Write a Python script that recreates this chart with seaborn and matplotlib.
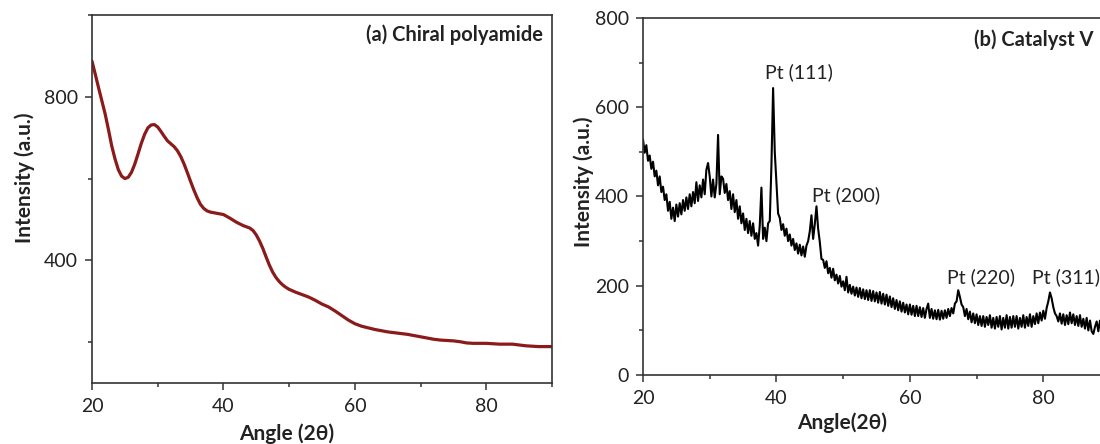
import numpy as np
import pandas as pd
import seaborn as sns
import matplotlib
matplotlib.use("Agg")
import matplotlib.pyplot as plt
from matplotlib.ticker import MultipleLocator

# ---------------- data ----------------
angle_a = [20, 20.5, 21, 21.5, 22, 22.5, 23, 23.5, 24, 24.5, 25, 25.5, 26, 26.5,
           27, 27.5, 28, 28.5, 29, 29.5, 30, 30.5, 31, 31.5, 32, 32.5, 33, 33.5,
           34, 34.5, 35, 35.5, 36, 36.5, 37, 37.5, 38, 39, 40, 41, 42, 43, 44,
           44.5, 45, 45.5, 46, 46.5, 47, 47.5, 48, 48.5, 49, 49.5, 50, 51, 52,
           53, 54, 55, 56, 57, 58, 59, 60, 61, 62, 63, 64, 65, 66, 67, 68, 69,
           70, 71, 72, 73, 74, 75, 76, 77, 78, 79, 80, 81, 82, 83, 84, 85, 86,
           87, 88, 89, 90]
intensity_a = [887, 855, 822, 790, 758, 720, 680, 648, 622, 606, 600, 603, 615, 635,
               660, 686, 708, 724, 731, 732, 726, 715, 703, 692, 685, 678, 668, 654,
               636, 615, 593, 572, 553, 537, 527, 521, 518, 515, 512, 503, 493, 485, 479,
               473, 462, 447, 429, 408, 388, 371, 358, 348, 340, 334, 329, 322, 316,
               310, 302, 293, 286, 276, 265, 254, 245, 239, 235, 231, 228, 225, 223, 221, 219, 216,
               213, 210, 207, 205, 204, 203, 201, 198, 197, 197, 197, 196, 195, 195, 195, 193, 191,
               190, 189, 189, 189]

angle_b = np.arange(20, 90.001, 0.25)
intensity_b = [
    528, 498, 515, 480,   # 20
    492, 462, 478, 445,   # 21
    458, 425, 445, 410,   # 22
    422, 392, 405, 368,   # 23
    388, 350, 375, 345,   # 24
    382, 355, 385, 360,   # 25
    392, 368, 398, 372,   # 26
    405, 378, 410, 385,   # 27
    432, 390, 425, 398,   # 28
    438, 405, 460, 475,   # 29
    445, 400, 438, 398,   # 30
    428, 538, 405, 445,   # 31
    440, 408, 428, 392,   # 32
    412, 372, 405, 365,   # 33
    392, 350, 378, 340,   # 34
    362, 325, 350, 318,   # 35
    345, 312, 340, 305,   # 36
    318, 290, 335, 420,   # 37
    305, 330, 300, 340,   # 38
    345, 470, 643, 500,   # 39
    430, 362, 352, 325,   # 40
    338, 312, 328, 300,   # 41
    315, 290, 305, 280,   # 42
    295, 272, 292, 268,   # 43
    288, 265, 290, 300,   # 44
    322, 358, 305, 338,   # 45
    378, 328, 298, 260,   # 46
    258, 240, 255, 228,   # 47
    240, 218, 238, 212,   # 48
    225, 205, 222, 198,   # 49
    210, 190, 220, 185,   # 50
    202, 182, 198, 178,   # 51
    196, 175, 195, 172,   # 52
    192, 170, 190, 168,   # 53
    190, 166, 188, 165,   # 54
    185, 162, 186, 160,   # 55
    182, 158, 180, 155,   # 56
    176, 152, 172, 148,   # 57
    168, 145, 165, 142,   # 58
    162, 140, 158, 136,   # 59
    158, 135, 155, 132,   # 60
    155, 132, 152, 130,   # 61
    150, 128, 148, 160,   # 62
    128, 148, 126, 145,   # 63
    125, 146, 124, 144,   # 64
    126, 145, 128, 148,   # 65
    132, 150, 138, 160,   # 66
    165, 190, 175, 158,   # 67
    152, 132, 148, 125,   # 68
    142, 118, 138, 116,   # 69
    136, 112, 132, 110,   # 70
    132, 108, 130, 112,   # 71
    134, 106, 128, 104,   # 72
    130, 108, 132, 102,   # 73
    128, 106, 134, 104,   # 74
    130, 106, 132, 108,   # 75
    132, 104, 128, 108,   # 76
    134, 106, 130, 110,   # 77
    136, 108, 132, 114,   # 78
    138, 116, 140, 122,   # 79
    144, 126, 150, 165,   # 80
    185, 172, 152, 138,   # 81
    132, 120, 138, 115,   # 82
    136, 112, 134, 114,   # 83
    140, 116, 136, 112,   # 84
    132, 110, 134, 108,   # 85
    126, 104, 128, 100,   # 86
    122, 98, 92, 108,     # 87
    120, 98, 122, 102,    # 88
    118, 124, 104, 120,   # 89
    112,                  # 90
]

peak_names = ["Pt (111)", "Pt (200)", "Pt (220)", "Pt (311)"]

df_a = pd.DataFrame({"angle": angle_a, "intensity": intensity_a})
df_b = pd.DataFrame({"angle": angle_b, "intensity": intensity_b})

# ---------------- style ----------------
sns.set_theme(style="ticks")
FAM = ["Lato", "DejaVu Sans"]
plt.rcParams["font.family"] = FAM
plt.rcParams["axes.edgecolor"] = "#333333"
plt.rcParams["axes.linewidth"] = 1.2
plt.rcParams["xtick.color"] = "#333333"
plt.rcParams["ytick.color"] = "#333333"
plt.rcParams["xtick.labelcolor"] = "#222222"
plt.rcParams["ytick.labelcolor"] = "#222222"

fig = plt.figure(figsize=(11, 4.44), dpi=100)
ax1 = fig.add_axes([0.08364, 0.13739, 0.41818, 0.82883])
ax2 = fig.add_axes([0.58455, 0.15541, 0.42455, 0.80405])

sns.lineplot(data=df_a, x="angle", y="intensity", ax=ax1, color="#8B1A1A",
             linewidth=2.3, estimator=None, sort=False)
sns.lineplot(data=df_b, x="angle", y="intensity", ax=ax2, color="black",
             linewidth=1.5, estimator=None, sort=False)

for ax in (ax1, ax2):
    ax.set_xlim(20, 90)
    ax.xaxis.set_major_locator(MultipleLocator(20))
    ax.xaxis.set_minor_locator(MultipleLocator(10))
    for s in ax.spines.values():
        s.set_visible(True)
        s.set_linewidth(1.2)
        s.set_color("#333333")
    ax.tick_params(which="major", direction="out", length=5, width=1.1,
                   labelsize=14)
    ax.tick_params(which="minor", direction="out", length=3, width=1.1)
    ax.tick_params(axis="x", which="major", pad=6)
    ax.tick_params(axis="y", which="major", pad=5)
    ax.tick_params(top=False, right=False, which="both")

ax1.set_ylim(100, 1000)
ax1.yaxis.set_major_locator(MultipleLocator(400))
ax1.yaxis.set_minor_locator(MultipleLocator(200))
ax1.set_yticks([400, 800])

ax2.set_ylim(0, 800)
ax2.yaxis.set_major_locator(MultipleLocator(200))
ax2.yaxis.set_minor_locator(MultipleLocator(100))

lab_kw = dict(fontsize=15, fontweight="bold", color="#222222", family=FAM)
ax1.set_xlabel("Angle (2θ)", **lab_kw)
ax1.set_ylabel("Intensity (a.u.)", **lab_kw)
ax2.set_xlabel("Angle(2θ)", **lab_kw)
ax2.set_ylabel("Intensity (a.u.)", **lab_kw)
ax1.xaxis.set_label_coords(0.424, -0.111)
ax1.yaxis.set_label_coords(-0.125, 0.557)
ax2.xaxis.set_label_coords(0.426, -0.104)
ax2.yaxis.set_label_coords(-0.106, 0.54)

ax1.text(0.980, 0.946, "(a) Chiral polyamide", transform=ax1.transAxes,
         ha="right", va="center", fontsize=14.5, fontweight="bold",
         color="#222222", family=FAM)
ax2.text(0.9636, 0.938, "(b) Catalyst V", transform=ax2.transAxes,
         ha="right", va="center", fontsize=14.5, fontweight="bold",
         color="#222222", family=FAM)

pk_kw = dict(ha="center", va="center", fontsize=14, color="#222222", family=FAM)
ax2.text(43.4, 679, peak_names[0], **pk_kw)
ax2.text(50.4, 404, peak_names[1], **pk_kw)
ax2.text(70.7, 220, peak_names[2], **pk_kw)
ax2.text(83.4, 220, peak_names[3], **pk_kw)

fig.savefig("out.png", dpi=100)
